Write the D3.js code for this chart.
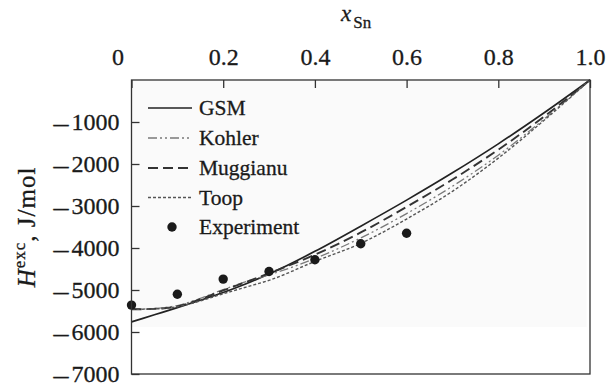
<!DOCTYPE html>
<html>
<head>
<meta charset="utf-8">
<script src="https://cdn.jsdelivr.net/npm/d3@7"></script>
<style>
  html, body { margin: 0; padding: 0; background: #fff; }
  svg { display: block; }
  text { font-family: "Liberation Serif", "Times New Roman", serif; fill: #1a1a1a; stroke: #1a1a1a; stroke-width: 0.3px; }
</style>
</head>
<body>
<svg id="chart" width="615" height="388"></svg>
<script>
// Mole fraction of Sn along the section
const xGrid = [0, 0.05, 0.1, 0.15, 0.2, 0.25, 0.3, 0.4, 0.5, 0.6, 0.7, 0.8, 0.9, 1.0];

// Calculated excess enthalpy, J/mol
const gsm      = [-5760, -5590, -5420, -5245, -5060, -4850, -4620, -4080, -3480, -2860, -2210, -1520, -780, 0];
const kohler   = [-5460, -5440, -5370, -5200, -4990, -4800, -4640, -4250, -3760, -3180, -2530, -1790, -930, 0];
const muggianu = [-5460, -5450, -5390, -5220, -5010, -4810, -4600, -4160, -3630, -3020, -2370, -1660, -870, 0];
const toop     = [-5460, -5450, -5400, -5260, -5090, -4930, -4770, -4320, -3890, -3310, -2650, -1860, -960, 0];

// Measured points
const expX = [0, 0.1, 0.2, 0.3, 0.4, 0.5, 0.6];
const expY = [-5360, -5100, -4740, -4560, -4280, -3900, -3650];

// Axis ticks
const xTicks = [0, 0.2, 0.4, 0.6, 0.8, 1.0];
const yTicks = [-1000, -2000, -3000, -4000, -5000, -6000, -7000];

const seriesNames = ["GSM", "Kohler", "Muggianu", "Toop"];
const seriesData = [gsm, kohler, muggianu, toop];
const seriesStyle = [
  { stroke: "#222", width: 1.7, dash: null },
  { stroke: "#7a7a7a", width: 1.3, dash: "9,3,2,3,2,3" },
  { stroke: "#333", width: 1.9, dash: "10,5" },
  { stroke: "#555", width: 1.4, dash: "3,2" }
];

const svg = d3.select("#chart");
const plotL = 131.5, plotR = 590, plotT = 80, plotB = 374;

const x = d3.scaleLinear().domain([0, 1]).range([plotL, plotR]);
const y = d3.scaleLinear().domain([-7000, 0]).range([plotB, plotT]);

// faint plotting field
svg.append("rect")
  .attr("x", plotL).attr("y", plotT)
  .attr("width", 455).attr("height", 247)
  .attr("fill", "#fafafa");

// curves
const line = d3.line()
  .x((d, i) => x(xGrid[i]))
  .y(d => y(d))
  .curve(d3.curveMonotoneX);

seriesData.forEach((s, k) => {
  const st = seriesStyle[k];
  svg.append("path")
    .datum(s)
    .attr("d", line)
    .attr("fill", "none")
    .attr("stroke", st.stroke)
    .attr("stroke-width", st.width)
    .attr("stroke-dasharray", st.dash);
});

// experimental points
svg.append("g").selectAll("circle")
  .data(expX)
  .join("circle")
  .attr("cx", d => x(d))
  .attr("cy", (d, i) => y(expY[i]))
  .attr("r", 4.7)
  .attr("fill", "#1a1a1a");

// axes (ticks pointing inward)
const xAxis = d3.axisTop(x)
  .tickValues(xTicks)
  .tickSizeInner(-8)
  .tickSizeOuter(0)
  .tickPadding(15)
  .tickFormat(d => d === 0 ? "0" : d3.format(".1f")(d));

const gx = svg.append("g")
  .attr("transform", `translate(0,${plotT})`)
  .call(xAxis);
gx.select(".domain").remove();
gx.selectAll(".tick line").attr("stroke", "#333").attr("stroke-width", 1.3);
gx.selectAll(".tick text")
  .attr("font-size", 24)
  .attr("fill", "#1a1a1a")
  .attr("dx", d => d === 0 ? -14 : 0);

const yAxis = d3.axisLeft(y)
  .tickValues(yTicks)
  .tickSizeInner(-8)
  .tickSizeOuter(0)
  .tickPadding(12)
  .tickFormat(d => String(Math.abs(d)));

const gy = svg.append("g")
  .attr("transform", `translate(${plotL},0)`)
  .call(yAxis);
gy.select(".domain").remove();
gy.selectAll(".tick line").attr("stroke", "#333").attr("stroke-width", 1.3);
gy.selectAll(".tick text")
  .attr("font-size", 24)
  .attr("fill", "#1a1a1a");
// minus sign: a widened dash placed in front of the digits
gy.selectAll(".tick").each(function() {
  const tick = d3.select(this);
  const digits = tick.select("text");
  const w = digits.node().getComputedTextLength();
  const xEnd = -12 - w - 3;
  tick.append("text")
    .attr("transform", `translate(${xEnd},0) scale(1.25,1)`)
    .attr("text-anchor", "end")
    .attr("font-size", 24)
    .attr("dy", "0.36em")
    .text("\u2013");
});

// frame
svg.append("rect")
  .attr("x", plotL).attr("y", plotT)
  .attr("width", plotR - plotL).attr("height", plotB - plotT)
  .attr("fill", "none")
  .attr("stroke", "#333")
  .attr("stroke-width", 1.3);

// top axis title: x_Sn
const tt = svg.append("text").attr("x", 341).attr("y", 20.5).attr("font-size", 23);
tt.append("tspan").attr("font-style", "italic").text("x");
tt.append("tspan").attr("font-size", 17).attr("dy", 7.5).attr("dx", 2).text("Sn");

// left axis title: H^exc, J/mol
const yt = svg.append("text")
  .attr("transform", "translate(35,227) rotate(-90)")
  .attr("text-anchor", "middle")
  .attr("font-size", 25)
  .style("letter-spacing", "1px");
yt.append("tspan").attr("font-style", "italic").text("H");
yt.append("tspan").attr("font-size", 17).attr("dy", -10).text("exc");
yt.append("tspan").attr("dy", 10).text(", J/mol");

// legend
const legY = [108, 138, 168, 197.5, 227];
const lg = svg.append("g");
seriesNames.forEach((name, k) => {
  const st = seriesStyle[k];
  lg.append("line")
    .attr("x1", 148).attr("x2", 192)
    .attr("y1", legY[k]).attr("y2", legY[k])
    .attr("stroke", st.stroke)
    .attr("stroke-width", st.width)
    .attr("stroke-dasharray", st.dash);
  lg.append("text")
    .attr("x", 199).attr("y", legY[k] + 7)
    .attr("font-size", 21.5)
    .text(name);
});
lg.append("circle")
  .attr("cx", 172).attr("cy", legY[4])
  .attr("r", 4.7)
  .attr("fill", "#1a1a1a");
lg.append("text")
  .attr("x", 199).attr("y", legY[4] + 7)
  .attr("font-size", 21.5)
  .text("Experiment");
</script>
</body>
</html>
